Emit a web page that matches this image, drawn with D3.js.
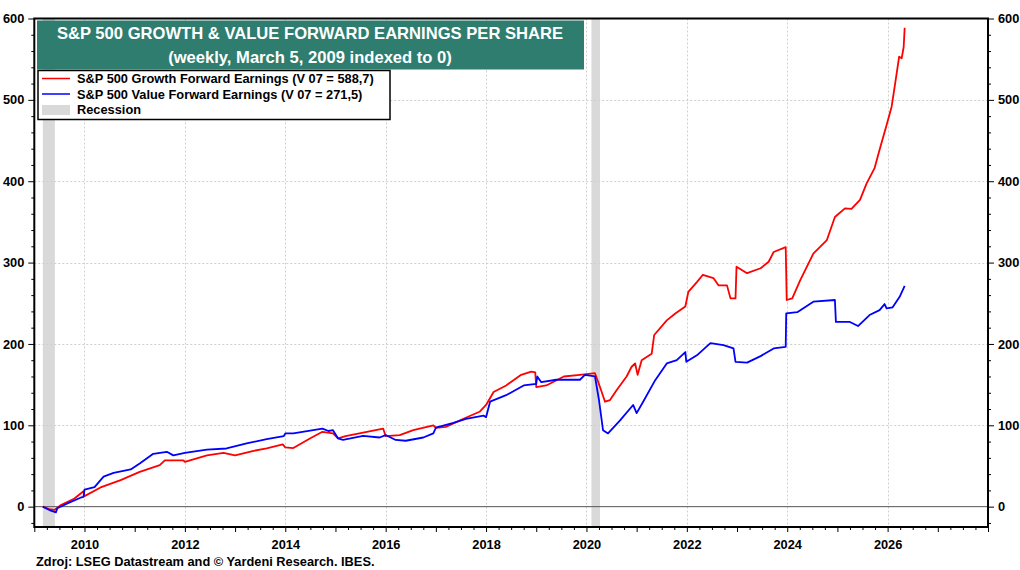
<!DOCTYPE html>
<html>
<head>
<meta charset="utf-8">
<script src="https://cdn.jsdelivr.net/npm/d3@7/dist/d3.min.js"></script>
<style>
  html, body { margin: 0; padding: 0; background: #fff; }
  svg { display: block; font-family: "Liberation Sans", Arial, sans-serif; }
</style>
</head>
<body>
<svg id="chart" width="1020" height="570"></svg>
<script>
// ---- DATA (decimal years, values indexed to 0 on March 5, 2009) ----
const growthDates = [2009.17,2009.3,2009.4,2009.53,2009.8,2009.98,2010.0,2010.32,2010.72,2011.1,2011.5,2011.6,2011.97,2012.0,2012.44,2012.77,2013.0,2013.37,2013.63,2013.95,2014.0,2014.16,2014.5,2014.74,2014.95,2015.05,2015.2,2015.55,2015.95,2016.0,2016.28,2016.55,2016.95,2017.0,2017.2,2017.55,2017.87,2018.0,2018.15,2018.4,2018.7,2018.9,2018.98,2019.0,2019.2,2019.55,2019.87,2020.17,2020.27,2020.37,2020.47,2020.6,2020.8,2020.9,2020.97,2021.02,2021.1,2021.3,2021.35,2021.6,2021.77,2021.97,2022.03,2022.2,2022.32,2022.53,2022.63,2022.8,2022.87,2022.97,2022.99,2023.2,2023.47,2023.63,2023.73,2023.97,2023.99,2024.1,2024.26,2024.52,2024.79,2024.95,2025.15,2025.28,2025.45,2025.58,2025.74,2025.84,2025.98,2026.08,2026.14,2026.23,2026.28,2026.32,2026.34];
const growthValues = [0,-3,-4,2,10,19,13,23.6,32.6,42.8,51,57,57,55,63,66,63,68.6,71.5,76.5,72.8,72,84,92,90,84,86.7,91,96,86.7,88,94,100,97,98,108,116.6,125,141,149,162,166,165,147,149,160,162,164,147,129,131,143,160,172,176,162,180,188,211,229,237.5,246,264,276,285,281,272,272,256,256,295,287,293,301,313,319,254,256,278.5,311,327.7,356,366.6,366,377,397,416,438.8,469,491.6,516,553,551,565,588.7];

const valueDates = [2009.17,2009.2,2009.33,2009.43,2009.46,2009.66,2009.92,2009.98,2010.0,2010.2,2010.38,2010.58,2010.92,2011.1,2011.37,2011.64,2011.77,2012.0,2012.44,2012.83,2013.23,2013.63,2013.97,2014.0,2014.16,2014.74,2014.86,2014.95,2015.05,2015.15,2015.55,2015.88,2016.0,2016.2,2016.4,2016.75,2016.95,2017.0,2017.35,2017.6,2017.95,2018.0,2018.08,2018.4,2018.75,2019.0,2019.02,2019.1,2019.4,2019.87,2019.97,2020.17,2020.25,2020.33,2020.43,2020.67,2020.93,2021.0,2021.13,2021.37,2021.6,2021.8,2021.97,2021.99,2022.2,2022.47,2022.73,2022.93,2022.97,2023.2,2023.47,2023.73,2023.97,2023.98,2024.2,2024.52,2024.95,2024.97,2025.25,2025.41,2025.64,2025.84,2025.94,2025.98,2026.1,2026.24,2026.34];
const valueValues = [0,-1,-5,-7,-2,4,11,12,21,24,37,41.6,45.7,53,65,67.4,63,66,70,71.5,77.7,83,86.7,90,90,96,93,94,84,82,87,85,88,82,81,85,90,97,103,108,112,110,129,137,149,151,160,153,156,156,162,160,131,94,90,106,125,115,129,155.5,176,180,190,178,186,201,198.6,194.5,178,177,185,194.5,196.5,237.5,239,252,254,227,227,222,235.5,241.6,249,243.7,245,258,271.5];

const recessionStarts = [2009.17, 2020.1];
const recessionEnds   = [2009.41, 2020.27];

const yTicks = [0,100,200,300,400,500,600];
const xLabelYears = [2010,2012,2014,2016,2018,2020,2022,2024,2026];

const titleLines = ["S&P 500 GROWTH & VALUE FORWARD EARNINGS PER SHARE", "(weekly, March 5, 2009 indexed to 0)"];
const legendLabels = ["S&P 500 Growth Forward Earnings (V 07 = 588,7)", "S&P 500 Value Forward Earnings (V 07 = 271,5)", "Recession"];
const sourceText = "Zdroj: LSEG Datastream and © Yardeni Research. IBES.";

// ---- LAYOUT ----
const L = 34.3, R = 988, T = 18.5, B = 527;
const FS = 12.8;
const svg = d3.select("#chart");
const x = d3.scaleLinear().domain([2009, 2028]).range([L, R]);
const y = d3.scaleLinear().domain([-25, 600]).range([B, T]);

// recession bands
svg.append("g").selectAll("rect").data(recessionStarts).join("rect")
  .attr("x", (d) => x(d)).attr("width", (d, i) => x(recessionEnds[i]) - x(d))
  .attr("y", T).attr("height", B - T).attr("fill", "#d9d9d9");

// grid
const grid = svg.append("g").attr("stroke", "#cfcfcf").attr("stroke-width", 1).attr("stroke-dasharray", "2,2");
grid.selectAll("line.h").data(yTicks.filter(v => v > 0 && v < 600)).join("line")
  .attr("x1", L).attr("x2", R).attr("y1", d => Math.round(y(d)) + 0.5).attr("y2", d => Math.round(y(d)) + 0.5);
grid.selectAll("line.v").data(xLabelYears).join("line")
  .attr("x1", d => Math.round(x(d)) + 0.5).attr("x2", d => Math.round(x(d)) + 0.5).attr("y1", T).attr("y2", B);

// zero line
svg.append("line").attr("x1", L).attr("x2", R).attr("y1", y(0)).attr("y2", y(0))
  .attr("stroke", "#555").attr("stroke-width", 1);

// lines
const line = d3.line().x(d => x(d[0])).y(d => y(d[1]));
const growth = growthDates.map((d, i) => [d, growthValues[i]]);
const value = valueDates.map((d, i) => [d, valueValues[i]]);
svg.append("path").datum(growth).attr("d", line).attr("fill", "none").attr("stroke", "#ff0000").attr("stroke-width", 1.8).attr("stroke-linejoin", "round");
svg.append("path").datum(value).attr("d", line).attr("fill", "none").attr("stroke", "#0000ff").attr("stroke-width", 1.8).attr("stroke-linejoin", "round");

// axes
const yMinor = d3.range(-20, 601, 20);
const axisStyle = g => {
  g.select(".domain").remove();
  g.selectAll(".tick line").attr("stroke", "#000");
  g.selectAll(".tick text").attr("font-size", FS).attr("font-weight", "bold").attr("fill", "#000").attr("font-family", "Liberation Sans, Arial, sans-serif");
};
svg.append("g").attr("transform", `translate(${L},0)`)
  .call(d3.axisLeft(y).tickValues(yMinor.filter(v => v % 100 !== 0)).tickSize(3).tickFormat(""))
  .call(axisStyle);
svg.append("g").attr("transform", `translate(${L},0)`)
  .call(d3.axisLeft(y).tickValues(yTicks).tickSize(6).tickPadding(4).tickFormat(d3.format("d")))
  .call(axisStyle);
svg.append("g").attr("transform", `translate(${R},0)`)
  .call(d3.axisRight(y).tickValues(yMinor.filter(v => v % 100 !== 0)).tickSize(3).tickFormat(""))
  .call(axisStyle);
svg.append("g").attr("transform", `translate(${R},0)`)
  .call(d3.axisRight(y).tickValues(yTicks).tickSize(6).tickPadding(4).tickFormat(d3.format("d")))
  .call(axisStyle);

const xQuarters = d3.range(2009, 2028.01, 0.25);
svg.append("g").attr("transform", `translate(0,${B})`)
  .call(d3.axisBottom(x).tickValues(xQuarters.filter(v => v % 1 !== 0)).tickSize(3).tickFormat(""))
  .call(axisStyle);
svg.append("g").attr("transform", `translate(0,${B})`)
  .call(d3.axisBottom(x).tickValues(d3.range(2009, 2029)).tickSize(5).tickPadding(8)
    .tickFormat(d => xLabelYears.includes(d) ? String(d) : ""))
  .call(axisStyle);

// frame
svg.append("rect").attr("x", L).attr("y", T).attr("width", R - L).attr("height", B - T)
  .attr("fill", "none").attr("stroke", "#000").attr("stroke-width", 2);

// title box
svg.append("rect").attr("x", 37).attr("y", 20.5).attr("width", 547).attr("height", 49).attr("fill", "#2e7d6f");
svg.append("g").selectAll("text").data(titleLines).join("text")
  .attr("x", 310).attr("y", (d, i) => 39 + i * 24).attr("text-anchor", "middle")
  .attr("fill", "#fff").attr("font-weight", "bold").attr("font-size", 16.6).text(d => d);

// legend
const lg = svg.append("g");
lg.append("rect").attr("x", 38).attr("y", 70.5).attr("width", 352).attr("height", 49)
  .attr("fill", "#fff").attr("stroke", "#000").attr("stroke-width", 1.5);
const legColors = ["#ff0000", "#0000ff"];
lg.selectAll("line").data(legColors).join("line")
  .attr("x1", 42).attr("x2", 70).attr("y1", (d, i) => 78.5 + i * 15.5).attr("y2", (d, i) => 78.5 + i * 15.5)
  .attr("stroke", d => d).attr("stroke-width", 1.5);
lg.append("rect").attr("x", 42).attr("y", 105).attr("width", 28).attr("height", 10).attr("fill", "#d9d9d9");
lg.selectAll("text").data(legendLabels).join("text")
  .attr("x", 77).attr("y", (d, i) => 83 + i * 15.5).attr("font-size", FS).attr("font-weight", "bold").attr("fill", "#000").text(d => d);

// source
svg.append("text").attr("x", 36).attr("y", 566).attr("font-size", FS).attr("font-weight", "bold").attr("fill", "#000").text(sourceText);
</script>
</body>
</html>
